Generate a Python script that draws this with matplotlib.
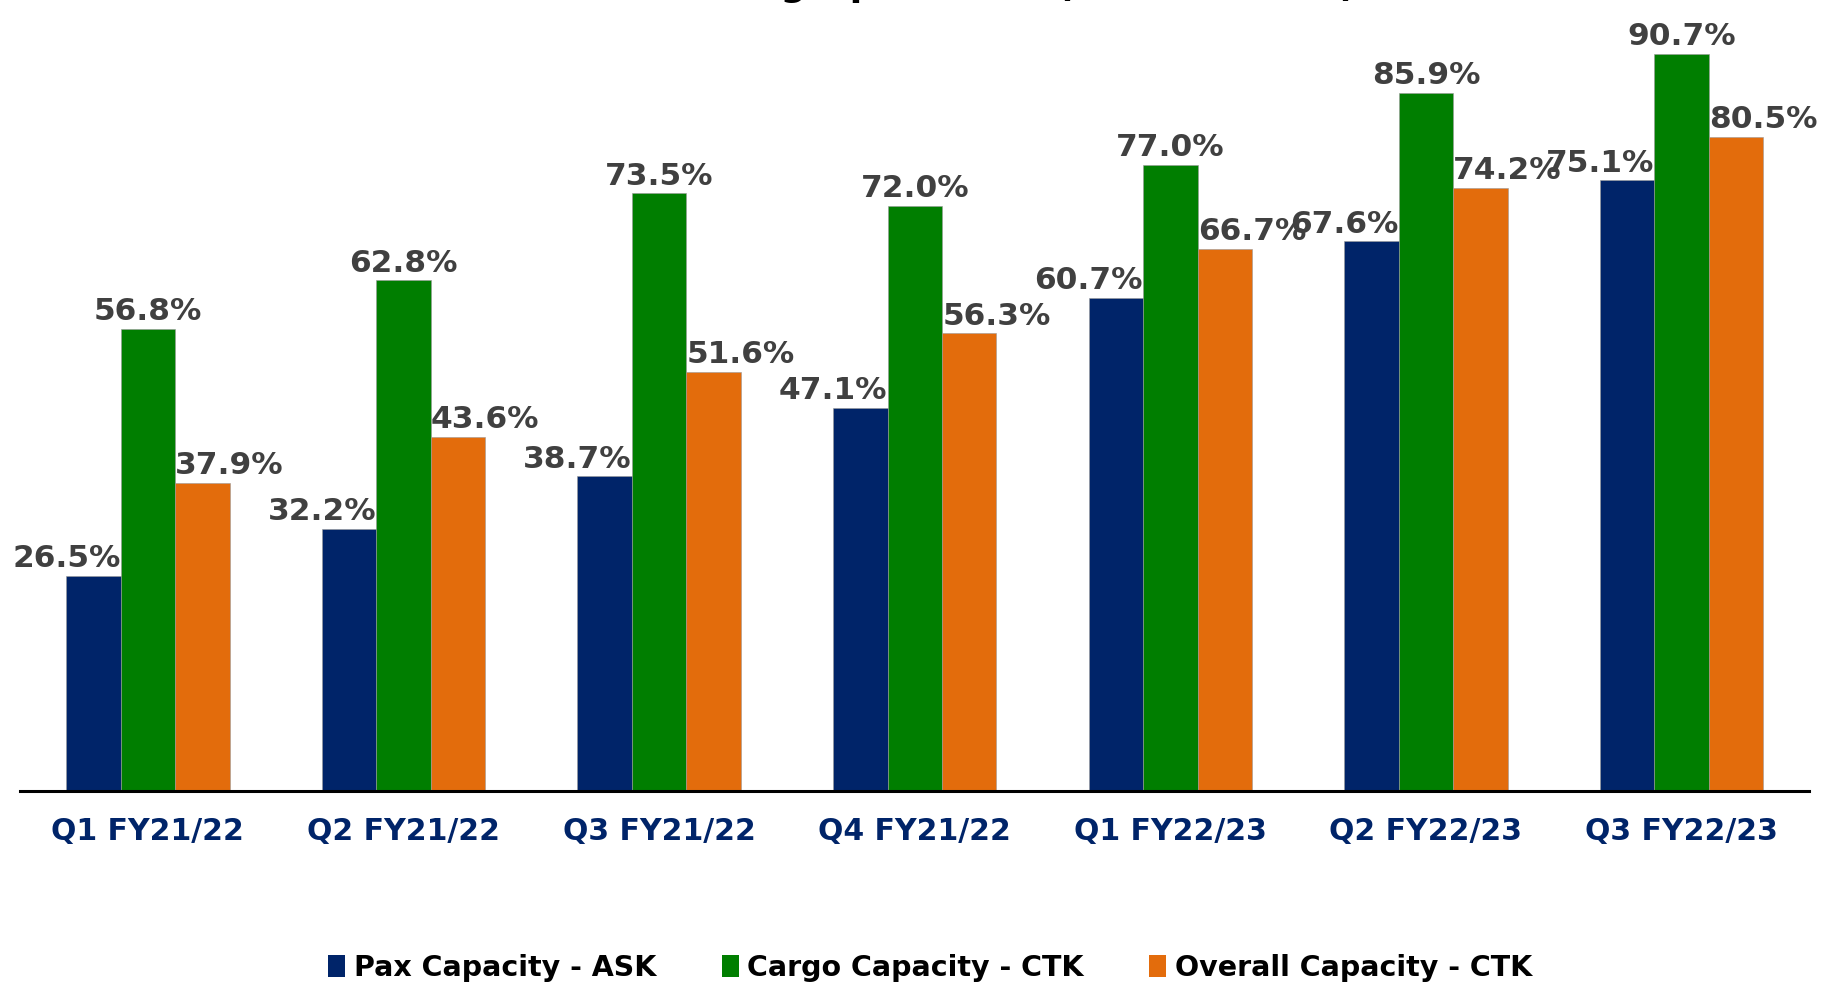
import numpy as np
import matplotlib.pyplot as plt
from matplotlib.patches import Patch

# ====== Данные ======
quarters = ["Q1 FY21/22", "Q2 FY21/22", "Q3 FY21/22", "Q4 FY21/22",
            "Q1 FY22/23", "Q2 FY22/23", "Q3 FY22/23"]
pax = [26.5, 32.2, 38.7, 47.1, 60.7, 67.6, 75.1]
cargo = [56.8, 62.8, 73.5, 72.0, 77.0, 85.9, 90.7]
overall = [37.9, 43.6, 51.6, 56.3, 66.7, 74.2, 80.5]
series_names = ["Pax Capacity - ASK", "Cargo Capacity - CTK", "Overall Capacity - CTK"]
title = "Recovering Operations (% of FY19/20)"

colors = ["#002469", "#007E00", "#E36C0C"]
label_color = "#404040"
tick_color = "#002469"

fig = plt.figure(figsize=(18.24, 9.88), dpi=100)
ax = fig.add_axes([0.011, 0.1994, 0.981, 0.8006])

x = np.arange(len(quarters))
w = 0.213
offsets = [-w, 0, w]
label_shift = [-w / 2, 0, w / 2]

for vals, off, shift, c in zip([pax, cargo, overall], offsets, label_shift, colors):
    ax.bar(x + off, vals, width=w, color=c, edgecolor="#9a9a9a", linewidth=0.4)
    for xi, v in zip(x, vals):
        ax.annotate(f"{v:.1f}%", (xi + off + shift, v), xytext=(0, 2),
                    textcoords="offset points", ha="center", va="bottom",
                    fontsize=22.5, fontweight="bold", color=label_color)

ax.set_xlim(-0.5, len(quarters) - 0.5)
ax.set_ylim(0, 97.3)
ax.set_yticks([])
ax.set_xticks(x)
ax.set_xticklabels(quarters, fontsize=21.5, fontweight="bold", color=tick_color)
ax.tick_params(axis="x", length=0, pad=19)
for s in ["top", "right", "left"]:
    ax.spines[s].set_visible(False)
ax.spines["bottom"].set_linewidth(2.2)
ax.spines["bottom"].set_color("black")

# заголовок почти весь за пределами картинки - видны только хвосты букв
fig.text(0.53, 1.004, title, ha="center", va="baseline", fontsize=26,
         fontweight="bold", color="black")

handles = [Patch(facecolor=c, edgecolor="none") for c in colors]
fig.legend(handles, series_names, loc="center", bbox_to_anchor=(0.51, 0.02),
           ncol=3, frameon=False, handlelength=0.6, handleheight=0.8,
           handletextpad=0.3, columnspacing=2.3,
           prop={"weight": "bold", "size": 20.5})

fig.savefig("out.png", dpi=100)
